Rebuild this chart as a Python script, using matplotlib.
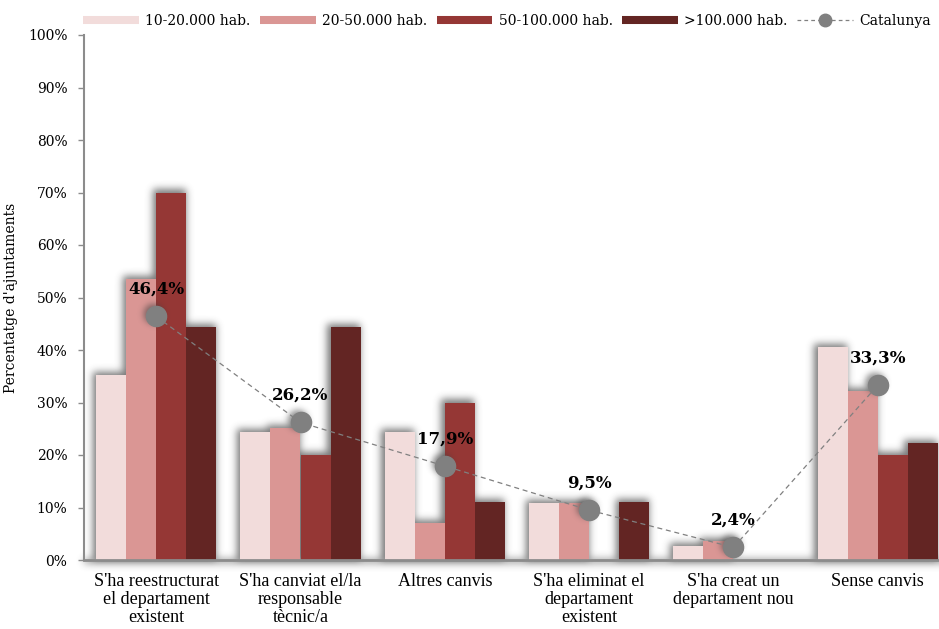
import numpy as np
import matplotlib
matplotlib.use("Agg")
import matplotlib.pyplot as plt
from matplotlib.lines import Line2D

categories = [
    "S'ha reestructurat\nel departament\nexistent",
    "S'ha canviat el/la\nresponsable\ntècnic/a",
    "Altres canvis",
    "S'ha eliminat el\ndepartament\nexistent",
    "S'ha creat un\ndepartament nou",
    "Sense canvis",
]
series_names = ["10-20.000 hab.", "20-50.000 hab.", "50-100.000 hab.", ">100.000 hab."]
v_10_20 = [35.3, 24.4, 24.4, 10.9, 2.7, 40.5]
v_20_50 = [53.5, 25.1, 7.1, 10.8, 3.6, 32.2]
v_50_100 = [70.0, 20.0, 30.0, 0.0, 0.0, 20.0]
v_100 = [44.4, 44.4, 11.1, 11.1, 0.0, 22.2]
catalunya = [46.4, 26.2, 17.9, 9.5, 2.4, 33.3]
y_ticks = list(range(0, 101, 10))

series = [v_10_20, v_20_50, v_50_100, v_100]
colors = ["#F2DCDB", "#DA9694", "#953735", "#632523"]
grey = "#808080"
serif = "DejaVu Serif"

W, H, DPI = 939, 629, 100
fig = plt.figure(figsize=(W / DPI, H / DPI), dpi=DPI)
ax_l, ax_b, ax_w, ax_h = 84, 69, 866, 525
ax = fig.add_axes([ax_l / W, ax_b / H, ax_w / W, ax_h / H])

x = np.arange(len(categories))
bw = 0.208
offsets = (np.arange(4) - 1.5) * bw
XMIN, XMAX, YMIN, YMAX = -0.5, 5.5, 0, 100


def to_px(xd, yd):
    return (xd - XMIN) / (XMAX - XMIN) * ax_w, (yd - YMIN) / (YMAX - YMIN) * ax_h


def blur(a, sigma):
    r = int(3 * sigma)
    k = np.exp(-0.5 * (np.arange(-r, r + 1) / sigma) ** 2)
    k /= k.sum()
    a = np.apply_along_axis(lambda m: np.convolve(m, k, mode="same"), 0, a)
    a = np.apply_along_axis(lambda m: np.convolve(m, k, mode="same"), 1, a)
    return a


PAD = 24
gh, gw = ax_h + 2 * PAD, ax_w + 2 * PAD
extent = (XMIN - PAD * (XMAX - XMIN) / ax_w, XMAX + PAD * (XMAX - XMIN) / ax_w,
          YMIN - PAD * (YMAX - YMIN) / ax_h, YMAX + PAD * (YMAX - YMIN) / ax_h)


def shadow_image(mask, sigma, strength, z):
    soft = blur(mask, sigma)
    rgba = np.zeros((gh, gw, 4))
    rgba[..., :3] = 0.25
    rgba[..., 3] = np.clip(soft * strength, 0, 1)
    im = ax.imshow(rgba, extent=extent, origin="lower", aspect="auto",
                   interpolation="bilinear", zorder=z)
    im.set_clip_on(False)


# soft glow behind the bars and the baseline
mask = np.zeros((gh, gw))
for vals, off in zip(series, offsets):
    for xi, v in zip(x, vals):
        if v <= 0:
            continue
        x0, y0 = to_px(xi + off - bw / 2, 0)
        x1, y1 = to_px(xi + off + bw / 2, v)
        mask[int(y0) + PAD:int(round(y1)) + PAD + 3, int(x0) + PAD - 3:int(x1) + PAD] = 1
mask[PAD - 3:PAD + 1, PAD:gw] = 1
shadow_image(mask, 3.8, 0.7, 1)

for vals, off, c, name in zip(series, offsets, colors, series_names):
    ax.bar(x + off, vals, width=bw, color=c, zorder=2, label=name)

# soft shadow under the Catalunya markers
dmask = np.zeros((gh, gw))
yy, xx = np.mgrid[0:gh, 0:gw]
for xi, v in zip(x, catalunya):
    px, py = to_px(xi, v)
    dmask[(xx - (px + PAD - 3)) ** 2 + (yy - (py + PAD + 2)) ** 2 <= 10 ** 2] = 1
shadow_image(dmask, 3.2, 0.6, 3)

ax.plot(x, catalunya, ls=(0, (4, 3)), color=grey, lw=0.9, zorder=4)
ax.plot(x, catalunya, ls="none", marker="o", ms=14.5, color=grey, zorder=5)

for xi, v in zip(x, catalunya):
    ax.annotate(f"{v:.1f}%".replace(".", ","), (xi, v), xytext=(0, 27),
                textcoords="offset pixels", ha="center", va="center",
                fontsize=12, fontweight="bold", family=serif, color="black", zorder=6)

ax.set_xlim(XMIN, XMAX)
ax.set_ylim(YMIN, YMAX)
ax.set_yticks(y_ticks)
ax.set_yticklabels([f"{t}%" for t in y_ticks], family=serif, fontsize=10)
ax.set_xticks(x)
ax.set_xticklabels(categories, family="Liberation Serif", fontsize=13, linespacing=1.1)
ax.tick_params(axis="x", length=0, pad=9)
ax.tick_params(axis="y", direction="out", length=4, color="#8c8c8c", width=1, pad=8)
for s in ("top", "right"):
    ax.spines[s].set_visible(False)
ax.spines["left"].set_color("#8c8c8c")
ax.spines["left"].set_linewidth(1.5)
ax.spines["bottom"].set_color("#8c8c8c")
ax.spines["bottom"].set_linewidth(2)
ax.spines["left"].set_zorder(7)
ax.spines["bottom"].set_zorder(7)

ax.set_ylabel("Percentatge d'ajuntaments", family=serif, fontsize=10)
ax.yaxis.set_label_coords((18 - ax_l) / ax_w, 0.5)

handles = [Line2D([], [], color=c, lw=5.8, solid_capstyle="butt") for c in colors]
handles.append(Line2D([], [], color=grey, ls=(0, (3, 2.5)), lw=0.9, marker="o", ms=9))
labels = series_names + ["Catalunya"]
fig.legend(handles, labels, loc="center", bbox_to_anchor=(507 / W, 1 - 21 / H), ncol=5,
           frameon=False, handlelength=4.0, handletextpad=0.45, columnspacing=0.7,
           prop={"family": serif, "size": 10})

fig.savefig("out.png", dpi=DPI)
